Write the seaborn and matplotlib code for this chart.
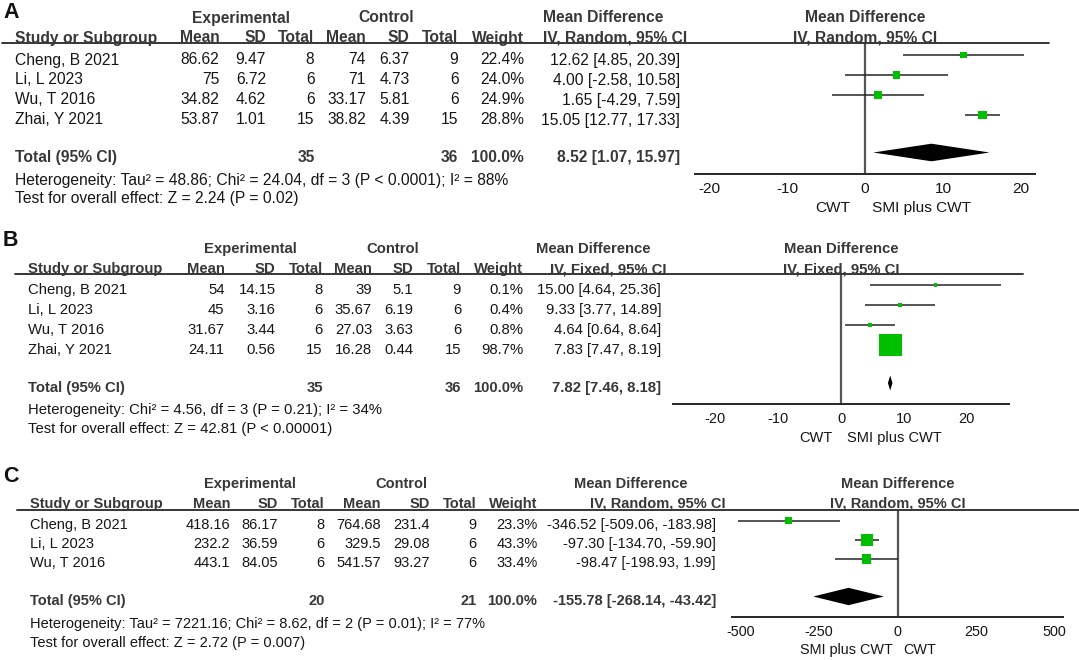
import numpy as np
import pandas as pd
import matplotlib
matplotlib.use("Agg")
import matplotlib.pyplot as plt
import seaborn as sns
from matplotlib.lines import Line2D

# ------------------------------------------------------------------ data
a_study = ["Cheng, B 2021", "Li, L 2023", "Wu, T 2016", "Zhai, Y 2021"]
a_exp_mean = [86.62, 75, 34.82, 53.87]
a_exp_sd = [9.47, 6.72, 4.62, 1.01]
a_exp_n = [8, 6, 6, 15]
a_ctl_mean = [74, 71, 33.17, 38.82]
a_ctl_sd = [6.37, 4.73, 5.81, 4.39]
a_ctl_n = [9, 6, 6, 15]
a_weight = [22.4, 24.0, 24.9, 28.8]
a_md = [12.62, 4.00, 1.65, 15.05]
a_lo = [4.85, -2.58, -4.29, 12.77]
a_hi = [20.39, 10.58, 7.59, 17.33]
a_total = [8.52, 1.07, 15.97]
a_total_n = [35, 36]
a_method = "IV, Random, 95% CI"
a_het = "Heterogeneity: Tau\u00b2 = 48.86; Chi\u00b2 = 24.04, df = 3 (P < 0.0001); I\u00b2 = 88%"
a_test = "Test for overall effect: Z = 2.24 (P = 0.02)"
a_ticks = [-20, -10, 0, 10, 20]
a_favours = ["CWT", "SMI plus CWT"]

b_study = ["Cheng, B 2021", "Li, L 2023", "Wu, T 2016", "Zhai, Y 2021"]
b_exp_mean = [54, 45, 31.67, 24.11]
b_exp_sd = [14.15, 3.16, 3.44, 0.56]
b_exp_n = [8, 6, 6, 15]
b_ctl_mean = [39, 35.67, 27.03, 16.28]
b_ctl_sd = [5.1, 6.19, 3.63, 0.44]
b_ctl_n = [9, 6, 6, 15]
b_weight = [0.1, 0.4, 0.8, 98.7]
b_md = [15.00, 9.33, 4.64, 7.83]
b_lo = [4.64, 3.77, 0.64, 7.47]
b_hi = [25.36, 14.89, 8.64, 8.19]
b_total = [7.82, 7.46, 8.18]
b_total_n = [35, 36]
b_method = "IV, Fixed, 95% CI"
b_het = "Heterogeneity: Chi\u00b2 = 4.56, df = 3 (P = 0.21); I\u00b2 = 34%"
b_test = "Test for overall effect: Z = 42.81 (P < 0.00001)"
b_ticks = [-20, -10, 0, 10, 20]
b_favours = ["CWT", "SMI plus CWT"]

c_study = ["Cheng, B 2021", "Li, L 2023", "Wu, T 2016"]
c_exp_mean = [418.16, 232.2, 443.1]
c_exp_sd = [86.17, 36.59, 84.05]
c_exp_n = [8, 6, 6]
c_ctl_mean = [764.68, 329.5, 541.57]
c_ctl_sd = [231.4, 29.08, 93.27]
c_ctl_n = [9, 6, 6]
c_weight = [23.3, 43.3, 33.4]
c_md = [-346.52, -97.30, -98.47]
c_lo = [-509.06, -134.70, -198.93]
c_hi = [-183.98, -59.90, 1.99]
c_total = [-155.78, -268.14, -43.42]
c_total_n = [20, 21]
c_method = "IV, Random, 95% CI"
c_het = "Heterogeneity: Tau\u00b2 = 7221.16; Chi\u00b2 = 8.62, df = 2 (P = 0.01); I\u00b2 = 77%"
c_test = "Test for overall effect: Z = 2.72 (P = 0.007)"
c_ticks = [-500, -250, 0, 250, 500]
c_favours = ["SMI plus CWT", "CWT"]

# ------------------------------------------------------------------ style
sns.set_style("white")
plt.rcParams["font.family"] = ["Liberation Sans", "DejaVu Sans"]
plt.rcParams["axes.unicode_minus"] = False

W, H = 1079, 660
TXT = "#161616"
HDR = "#383838"
GREEN = "#00bf00"
LINE = "#262626"

fig = plt.figure(figsize=(W / 100, H / 100), dpi=100)


def fy(y):
    return 1 - y / H


def T(x, y, s, ha="left", bold=False, size=11, color=TXT):
    fig.text(x / W, fy(y), s, ha=ha, va="center", fontsize=size,
             fontweight="bold" if bold else "normal", color=color)


def fmt(v):
    return f"{v:g}"


panels = [
    dict(letter="A", study=a_study, em=a_exp_mean, esd=a_exp_sd, en=a_exp_n,
         cm=a_ctl_mean, csd=a_ctl_sd, cn=a_ctl_n, w=a_weight, md=a_md,
         lo=a_lo, hi=a_hi, total=a_total, tn=a_total_n, method=a_method,
         het=a_het, test=a_test, ticks=a_ticks, fav=a_favours),
    dict(letter="B", study=b_study, em=b_exp_mean, esd=b_exp_sd, en=b_exp_n,
         cm=b_ctl_mean, csd=b_ctl_sd, cn=b_ctl_n, w=b_weight, md=b_md,
         lo=b_lo, hi=b_hi, total=b_total, tn=b_total_n, method=b_method,
         het=b_het, test=b_test, ticks=b_ticks, fav=b_favours),
    dict(letter="C", study=c_study, em=c_exp_mean, esd=c_exp_sd, en=c_exp_n,
         cm=c_ctl_mean, csd=c_ctl_sd, cn=c_ctl_n, w=c_weight, md=c_md,
         lo=c_lo, hi=c_hi, total=c_total, tn=c_total_n, method=c_method,
         het=c_het, test=c_test, ticks=c_ticks, fav=c_favours),
]

layouts = [
    dict(fs=11.25, lab=(3, 12), grp_y=18, exp_x=241, ctl_x=386, hdr_y=38,
         line_y=43, line_x=(2, 1049), study_x=15.5,
         cols=[219.5, 266, 314.5, 366, 409.5, 458.5, 524],
         md_hdr_x=543, iv_hdr_x=543, ci_x=680, y0=60, dy=20, total_y=157.5,
         het_y=180, test_y=199, ax_x=(695, 1035), ax_y=174, xlim=21.8,
         fav_y=208, fav_off=(-15, 7), dh_px=8.8, off_px=5),
    dict(fs=10.75, lab=(3, 240), grp_y=249, exp_x=250, ctl_x=393, hdr_y=269,
         line_y=274, line_x=(15.5, 1023), study_x=27.5,
         cols=[224.5, 275.5, 322.7, 372, 413, 461, 523],
         md_hdr_x=536, iv_hdr_x=550, ci_x=661, y0=290, dy=20, total_y=388,
         het_y=410, test_y=428.5, ax_x=(673, 1009), ax_y=404, xlim=26.7,
         fav_y=438, fav_off=(-8, 6), dh_px=7.5, off_px=5),
    dict(fs=10.55, lab=(3, 476), grp_y=484, exp_x=250, ctl_x=401.5, hdr_y=504,
         line_y=510, line_x=(17, 1079), study_x=30,
         cols=[230, 278, 324.5, 381, 430, 476.7, 537.5],
         md_hdr_x=573.5, iv_hdr_x=589.5, ci_x=716, y0=525, dy=19.2,
         total_y=601, het_y=624, test_y=643, ax_x=(732, 1063), ax_y=617,
         xlim=527, fav_y=650, fav_off=(-5, 6), dh_px=8.7, off_px=4.5),
]

for p, L in zip(panels, layouts):
    fs = L["fs"]
    # --- table headers
    T(L["lab"][0], L["lab"][1], p["letter"], bold=True, size=15.5, color="#111111")
    T(L["exp_x"], L["grp_y"], "Experimental", ha="center", bold=True, size=fs, color=HDR)
    T(L["ctl_x"], L["grp_y"], "Control", ha="center", bold=True, size=fs, color=HDR)
    T(L["md_hdr_x"], L["grp_y"], "Mean Difference", bold=True, size=fs, color=HDR)
    T(L["iv_hdr_x"], L["hdr_y"], p["method"], bold=True, size=fs, color=HDR)
    T(L["study_x"], L["hdr_y"], "Study or Subgroup", bold=True, size=fs, color=HDR)
    for x, s in zip(L["cols"], ["Mean", "SD", "Total", "Mean", "SD", "Total", "Weight"]):
        T(x, L["hdr_y"], s, ha="right", bold=True, size=fs, color=HDR)
    fig.add_artist(Line2D([L["line_x"][0] / W, L["line_x"][1] / W],
                          [fy(L["line_y"])] * 2, color=LINE, lw=1.3))

    # --- study rows
    n = len(p["study"])
    for i in range(n):
        y = L["y0"] + L["dy"] * i
        T(L["study_x"], y, p["study"][i], size=fs)
        vals = [fmt(p["em"][i]), fmt(p["esd"][i]), str(p["en"][i]),
                fmt(p["cm"][i]), fmt(p["csd"][i]), str(p["cn"][i]),
                f"{p['w'][i]:.1f}%"]
        for x, s in zip(L["cols"], vals):
            T(x, y, s, ha="right", size=fs)
        T(L["ci_x"], y, f"{p['md'][i]:.2f} [{p['lo'][i]:.2f}, {p['hi'][i]:.2f}]",
          ha="right", size=fs)

    # --- total row & footers
    ty = L["total_y"]
    T(L["study_x"], ty, "Total (95% CI)", bold=True, size=fs, color=HDR)
    T(L["cols"][2], ty, str(p["tn"][0]), ha="right", bold=True, size=fs, color=HDR)
    T(L["cols"][5], ty, str(p["tn"][1]), ha="right", bold=True, size=fs, color=HDR)
    T(L["cols"][6], ty, "100.0%", ha="right", bold=True, size=fs, color=HDR)
    tot = p["total"]
    T(L["ci_x"], ty, f"{tot[0]:.2f} [{tot[1]:.2f}, {tot[2]:.2f}]", ha="right",
      bold=True, size=fs, color=HDR)
    T(L["study_x"], L["het_y"], p["het"], size=fs)
    T(L["study_x"], L["test_y"], p["test"], size=fs)

    # --- forest axes (row index -> pixel rows, marks sit slightly above text)
    x0, x1 = L["ax_x"]
    ax = fig.add_axes([x0 / W, fy(L["ax_y"]), (x1 - x0) / W, (L["ax_y"] - L["line_y"]) / H])
    ax.set_facecolor("none")
    total_i = (L["total_y"] - L["y0"]) / L["dy"]
    df = pd.DataFrame({"md": p["md"], "lo": p["lo"], "hi": p["hi"],
                       "row": np.arange(n, dtype=float), "w": p["w"]})
    side_px = np.maximum(0.58 * np.power(df["w"], 0.8), 3.6)
    df["area"] = (side_px * 0.72) ** 2
    ax.hlines(df["row"], df["lo"], df["hi"], color=LINE, lw=1.1, zorder=2)
    sns.scatterplot(data=df, x="md", y="row", size="area", sizes=(0.01, 3000),
                    size_norm=(0.01, 3000), marker="s", color=GREEN,
                    linewidth=0, edgecolor="none", legend=False, ax=ax, zorder=3)
    dh = L["dh_px"] / L["dy"]
    ax.fill([tot[1], tot[0], tot[2], tot[0]],
            [total_i, total_i - dh, total_i, total_i + dh],
            color="black", lw=0, zorder=3)
    ax.axvline(0, color="#555555", lw=1.6, zorder=1)
    ax.set_xlim(-L["xlim"], L["xlim"])
    y0m = L["y0"] - L["off_px"]
    ax.set_ylim((L["ax_y"] - y0m) / L["dy"], (L["line_y"] - y0m) / L["dy"])
    ax.set_xticks(p["ticks"])
    ax.set_xticklabels([str(t) for t in p["ticks"]])
    ax.set_yticks([])
    ax.set_xlabel("")
    ax.set_ylabel("")
    for s in ["top", "left", "right"]:
        ax.spines[s].set_visible(False)
    ax.spines["bottom"].set_color(LINE)
    ax.spines["bottom"].set_linewidth(1.4)
    ax.tick_params(axis="x", direction="inout", length=8, width=1.3, color=LINE,
                   labelsize=fs - 0.2, labelcolor=TXT, pad=2)

    # plot headers and favours labels
    zero_px = x0 + (0 + L["xlim"]) / (2 * L["xlim"]) * (x1 - x0)
    T(zero_px, L["grp_y"], "Mean Difference", ha="center", bold=True, size=fs, color=HDR)
    T(zero_px, L["hdr_y"], p["method"], ha="center", bold=True, size=fs, color=HDR)
    T(zero_px + L["fav_off"][0], L["fav_y"], p["fav"][0], ha="right", size=fs - 0.2)
    T(zero_px + L["fav_off"][1], L["fav_y"], p["fav"][1], ha="left", size=fs - 0.2)

fig.savefig("out.png", dpi=100)
